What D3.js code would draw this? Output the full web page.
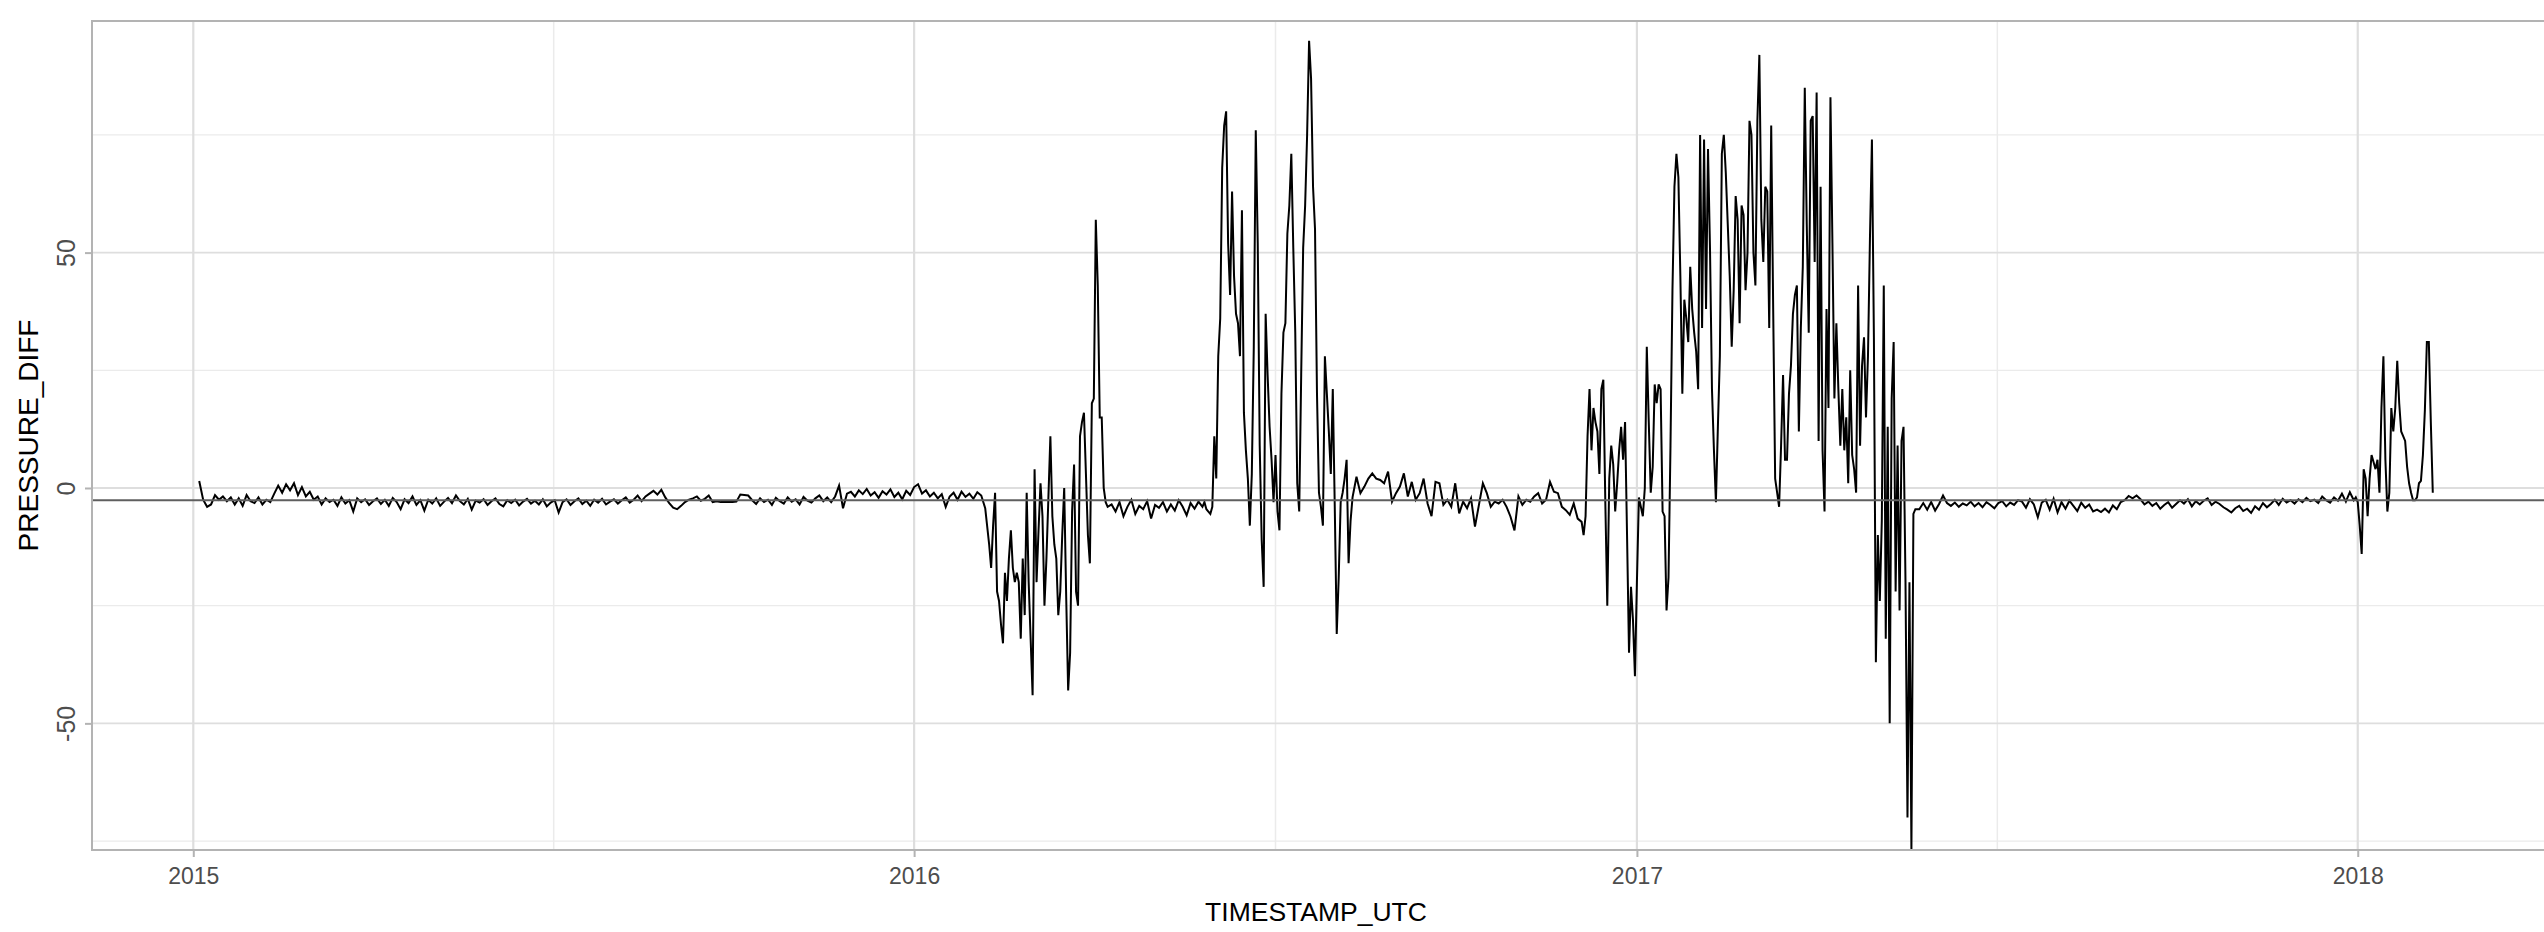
<!DOCTYPE html>
<html><head><meta charset="utf-8">
<script src="https://cdn.jsdelivr.net/npm/d3@7"></script>
<style>html,body{margin:0;padding:0;background:#fff;}svg{display:block;font-family:"Liberation Sans",Arial,sans-serif;}</style>
</head><body><svg id="chart" width="2544" height="932"></svg>
<script>
// ---------- DATA (PRESSURE_DIFF by TIMESTAMP_UTC) ----------
// quiet stretch 2015 (every 2nd day)
const q1Start = "2015-01-04", q1Step = 2;
const q1Values = [1.5,-2.5,-4,-3.5,-1.5,-2.5,-1.8,-2.8,-2,-3.5,
-2.2,-3.8,-1.5,-2.8,-3.2,-2,-3.5,-2.5,-3,-1.2,
0.5,-1,0.8,-0.5,1,-1.5,0.2,-1.8,-0.8,-2.5,
-1.8,-3.5,-2.2,-3,-2.5,-3.8,-2,-3.3,-2.6,-5,
-2.2,-3,-2.4,-3.6,-2.8,-2.2,-3.4,-2.5,-3.8,-2.1,
-3,-4.5,-2.4,-3.2,-1.8,-3.6,-2.6,-4.8,-2.5,-3.3,
-2.2,-3.8,-2.9,-2.1,-3.2,-1.6,-2.8,-3.5,-2.3,-4.6,
-2.7,-3.1,-2.4,-3.6,-2.8,-2.2,-3.4,-3.9,-2.6,-3.2,
-2.5,-3.7,-2.9,-2.3,-3.3,-2.7,-3.5,-2.4,-3.9,-3.1,
-2.6,-5.2,-3,-2.4,-3.6,-2.8,-2.2,-3.4,-2.7,-3.8,
-2.5,-3.1,-2.3,-3.5,-2.9,-2.4,-3.3,-2.6,-2,-3.1,
-2.5,-1.6,-2.8,-1.8,-1.2,-0.6,-1.4,-0.4,-2,-3.2,
-4.2,-4.5,-3.8,-3,-2.5,-2.2,-1.8,-2.7,-2.3,-1.6,
-3,-2.8,-3,-3,-3,-3,-2.9,-1.4,-1.5,-1.6,
-2.6,-3.4,-2.2,-3,-2.5,-3.6,-2.1,-2.8,-3.3,-2,
-2.9,-2.4,-3.5,-1.9,-2.7,-3.1,-2.2,-1.6,-2.8,-2,
-3,-1.8,0.5,-4.3,-1.2,-0.8,-1.8,-0.5,-1.3,-0.2,
-1.6,-0.9,-2.1,-0.7,-1.4,-0.3,-1.9,-1,-2.4,-0.6,
-1.5,0.2,0.8,-1.2,-0.5,-1.8,-1,-2.2,-1.3,-4,
-1.8,-1,-2.5,-0.8,-1.9,-1.2,-2.3,-0.9,-1.6,-4.3];
// active stretch Feb-Apr 2016 (daily)
const a1Start = "2016-02-08", a1Step = 1;
const a1Values = [-12,-17,-8,-1,-22,-24,-29,-33,-18,-24,
-15,-9,-17,-20,-18,-20,-32,-15,-27,-1,
-20,-32,-44,4,-20,-9,1,-6,-25,-15,
-2,11,-6,-12,-15,-27,-22,-10,0,-23,
-43,-35,-5,5,-22,-25,11,14,16,3,
-10,-16,18,19,57,43,15,15,0,-3,-4];
// quiet Apr-May 2016
const q2Start = "2016-04-10", q2Step = 2;
const q2Values = [-3.5,-5,-3,-6,-4,-2.5,-5.5,-3.8,-4.5,-2.8,-6.5,-3.6,-4.2,-3,-5,-3.5,-4.8,-2.6,-4,-5.8,-3.2,-4.4,-2.9,-4];
// active stretch Jun-Aug 2016 (daily)
const a2Start = "2016-05-27", a2Step = 1;
const a2Values = [-3,-4.5,-5,-5.5,-4,11,2,28,36,68,
77,80,52,41,63,45,37,35,28,59,
16,8,2,-8,3,30,76,52,9,-11,
-21,37,24,13,6,-3,7,-5,-9,20,
33,35,54,60,71,51,33,1,-5,24,
51,60,75,95,87,64,55,20,-1,-4,
-8,28,20,12,3,21,-4,-31,-19,-3,
-1,2,6,-16,-7,-2];
// quiet Aug-Dec 2016
const q3Start = "2016-08-12", q3Step = 2;
const q3Values = [2.4,-1.1,0.3,2,3.1,2,1.7,1,3.5,-2.9,
-1.1,0.3,3.1,-1.8,1.3,-2.5,-1.1,2,-3.3,-6,
1.3,1,-3.6,-2.5,-4,1,-5.4,-2.9,-4.3,-2.2,
-8.2,-3.6,1,-1.1,-4,-2.9,-3.3,-2.5,-4,-6.1,
-9,-1.8,-3.6,-2.5,-2.9,-1.8,-1.1,-3.3,-2.5,1.3,
-0.8,-1.1,-4,-4.7,-5.7,-3.3,-6.5,-7.2];
// active stretch Dec 2016 - May 2017 (daily)
const a3Start = "2016-12-05", a3Step = 1;
const a3Values = [-10,-6,11,21,8,17,14,12,3,21,
23,-3,-25,2,9,5,-5,1,8,13,
6,14,-10,-35,-21,-28,-40,-20,-2,-4,
-6,0,30,14,-1,4.5,22,18,22,21,
-5,-6,-26,-19,9,42,64,71,66,45,
20,40,36,31,47,38,33,29,21,75,
34,74,38,72,51,21,8,-3,13,28,
71,75,67,56,45,30,42,62,57,35,
60,58,42,50,78,75,50,43,78,92,
57,48,64,63,34,77,38,2,-1,-4,
9,24,6,6,20,26,37,41,43,12,
34,47,85,56,33,78,79,48,84,10,
64,8,-5,38,17,83,52,19,35,21,
9,21,8,15,1,25,7,4,-1,43,
9,26,32,15,28,53,74,32,-37,-10,
-24,-7,43,-32,13,-50,19,31,-22,9,
-26,10,13,-20,-70,-20,-77,-5.5,-4.5];
// quiet May-Dec 2017
const q4Start = "2017-05-24", q4Step = 2;
const q4Values = [-4.5,-3.2,-4.6,-3,-4.8,-3.4,-1.6,-3.2,-3.8,-3.1,
-4,-3.3,-3.7,-2.9,-3.9,-3.2,-4.1,-3,-3.6,-4.3,
-3.2,-2.8,-3.9,-3.1,-3.6,-2.6,-2.9,-4.2,-2.4,-3.5,
-6.2,-3.1,-2.5,-4.6,-2.3,-5.2,-3,-4.4,-2.7,-3.8,
-4.9,-3.1,-4.2,-3.5,-5,-4.6,-5.1,-4.4,-5.2,-3.7,
-4.5,-3,-2.6,-1.7,-2.2,-1.6,-2.4,-3.5,-2.9,-3.8,
-3.2,-4.4,-3.6,-3,-4.2,-3.4,-2.6,-3.3,-2.4,-3.9,
-2.8,-3.5,-2.7,-2.2,-3.6,-2.9,-3.4,-4.1,-4.6,-5.2,
-4.3,-3.8,-4.9,-4.4,-5.3,-3.9,-4.6,-3.2,-4.1,-3.4,
-2.5,-3.6,-2.3,-3.1,-2.6,-3.3,-2.4,-3,-2.1,-2.8,
-2.5,-3.2,-1.8,-2.6,-3.1,-2,-2.7,-1.2,-2.9,-0.9,
-2.6];
// active stretch Jan-Feb 2018 (daily)
const a4Start = "2017-12-31", a4Step = 1;
const a4Values = [-2,-3,-8,-14,4,2,-6,2,7,5.5,
4,6,-1,17,28,6,-5,-1,17,12,
17,27,18,12,11,10,4.5,1,-1,-2.6,
-2.6,-2,1,1.5,7,16.6,31,31,14,-1];

const xTickLabels = ["2015","2016","2017","2018"];
const yTickValues = [-50, 0, 50];
const yMinorValues = [-75, -25, 25, 75];
const refLineValue = -2.6;
const yLimits = [-76.9, 99.2];
const xTitle = "TIMESTAMP_UTC", yTitle = "PRESSURE_DIFF";

// ---------- BUILD ----------
const parse = d3.utcParse("%Y-%m-%d");
function seg(start, step, values) {
  const s = parse(start);
  return values.map((v, i) => ({date: d3.utcDay.offset(s, i * step), value: v}));
}
const series = [].concat(
  seg(q1Start, q1Step, q1Values), seg(a1Start, a1Step, a1Values),
  seg(q2Start, q2Step, q2Values), seg(a2Start, a2Step, a2Values),
  seg(q3Start, q3Step, q3Values), seg(a3Start, a3Step, a3Values),
  seg(q4Start, q4Step, q4Values), seg(a4Start, a4Step, a4Values)
).sort((a, b) => a.date - b.date);

const W = 2544, H = 932;
const P = {left: 92, right: 2540, top: 21, bottom: 850};
const edge = W + 4; // panel continues past the right edge of the picture
const svg = d3.select("#chart");

const ext = d3.extent(series, d => d.date);
const span = ext[1] - ext[0];
const x = d3.scaleUtc()
  .domain([new Date(+ext[0] - span * 0.048), new Date(+ext[1] + span * 0.048)])
  .range([P.left, P.right]);
const y = d3.scaleLinear().domain(yLimits).range([P.bottom, P.top]);

const majorDates = xTickLabels.map(s => d3.utcParse("%Y")(s));
const minorDates = d3.pairs(majorDates).map(([a, b]) => new Date((+a + +b) / 2));

const grid = svg.append("g");
grid.selectAll("line.ymin").data(yMinorValues).join("line")
  .attr("x1", P.left).attr("x2", edge).attr("y1", d => y(d)).attr("y2", d => y(d))
  .attr("stroke", "#ebebeb").attr("stroke-width", 1.2);
grid.selectAll("line.xmin").data(minorDates).join("line")
  .attr("x1", d => x(d)).attr("x2", d => x(d)).attr("y1", P.top).attr("y2", P.bottom)
  .attr("stroke", "#ebebeb").attr("stroke-width", 1.5);
grid.selectAll("line.ymaj").data(yTickValues).join("line")
  .attr("x1", P.left).attr("x2", edge).attr("y1", d => y(d)).attr("y2", d => y(d))
  .attr("stroke", "#dedede").attr("stroke-width", 1.8);
grid.selectAll("line.xmaj").data(majorDates).join("line")
  .attr("x1", d => x(d)).attr("x2", d => x(d)).attr("y1", P.top).attr("y2", P.bottom)
  .attr("stroke", "#dedede").attr("stroke-width", 2.2);

svg.append("clipPath").attr("id", "clip").append("rect")
  .attr("x", P.left).attr("y", P.top).attr("width", edge - P.left).attr("height", P.bottom - P.top);

const line = d3.line().x(d => x(d.date)).y(d => y(d.value));
svg.append("path").datum(series).attr("clip-path", "url(#clip)")
  .attr("d", line).attr("fill", "none").attr("stroke", "#000").attr("stroke-width", 2)
  .attr("stroke-linejoin", "miter");

svg.append("line").attr("x1", P.left).attr("x2", edge)
  .attr("y1", y(refLineValue)).attr("y2", y(refLineValue))
  .attr("stroke", "#5f5f5f").attr("stroke-width", 1.8);

svg.append("rect").attr("x", P.left).attr("y", P.top)
  .attr("width", edge - P.left).attr("height", P.bottom - P.top)
  .attr("fill", "none").attr("stroke", "#b3b3b3").attr("stroke-width", 2);

// axes
const xAxis = svg.append("g").attr("transform", `translate(0,${P.bottom})`)
  .call(d3.axisBottom(x).tickValues(majorDates).tickFormat(d3.utcFormat("%Y")).tickSize(7));
xAxis.select(".domain").remove();
xAxis.selectAll(".tick line").attr("stroke", "#b3b3b3").attr("stroke-width", 2).attr("y1", 1);
xAxis.selectAll(".tick text").attr("y", 34).attr("dy", 0)
  .attr("font-size", 23).attr("fill", "#4d4d4d").attr("font-family", "Liberation Sans, Arial, sans-serif");

const yAxis = svg.append("g").attr("transform", `translate(${P.left},0)`)
  .call(d3.axisLeft(y).tickValues(yTickValues).tickFormat(d => String(d)).tickSize(7));
yAxis.select(".domain").remove();
yAxis.selectAll(".tick line").attr("stroke", "#b3b3b3").attr("stroke-width", 2).attr("x1", -1);
yAxis.selectAll(".tick text").attr("x", 0).attr("dy", 0).attr("text-anchor", "middle")
  .attr("transform", "translate(-17,0) rotate(-90)")
  .attr("font-size", 25).attr("fill", "#4d4d4d").attr("font-family", "Liberation Sans, Arial, sans-serif");

svg.append("text").attr("x", (P.left + P.right) / 2).attr("y", 921)
  .attr("text-anchor", "middle").attr("font-size", 26.5).attr("fill", "#000").text(xTitle);
svg.append("text").attr("transform", `translate(38,${(P.top + P.bottom) / 2}) rotate(-90)`)
  .attr("text-anchor", "middle").attr("font-size", 28).attr("fill", "#000").text(yTitle);
</script></body></html>
